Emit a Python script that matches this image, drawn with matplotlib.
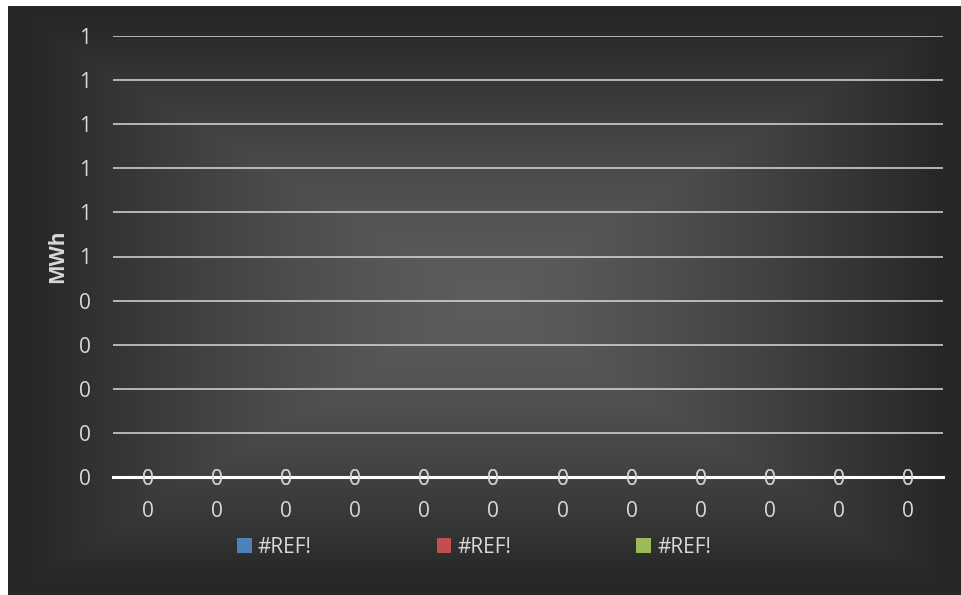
import numpy as np
import matplotlib
matplotlib.use("Agg")
import matplotlib.pyplot as plt

# chart data (all series evaluate to zero, names are broken refs)
categories = ["0"] * 12
series_names = ["#REF!", "#REF!", "#REF!"]
series_values = [[0] * 12, [0] * 12, [0] * 12]
series_colors = ["#4f81bd", "#c0504d", "#9bbb59"]
y_ticks = [0, 0.1, 0.2, 0.3, 0.4, 0.5, 0.6, 0.7, 0.8, 0.9, 1.0]
y_tick_labels = ["0", "0", "0", "0", "0", "1", "1", "1", "1", "1", "1"]
y_title = "MWh"

W, H = 962, 595
fig = plt.figure(figsize=(W / 100, H / 100), dpi=100)
fig.patch.set_facecolor("white")

# background panel with a rectangular path gradient
bg = fig.add_axes([8 / W, 0, 1 - 8 / W, 1 - 6 / H])
bw, bh = 477, 295
xx, yy = np.meshgrid(np.linspace(-1, 1, bw), np.linspace(-1, 1, bh))
d = np.maximum(np.abs(xx), np.abs(yy))
d = np.clip(d / 0.95, 0, 1)
c = 0.365 - (0.365 - 0.155) * d ** 1.4
img = np.dstack([c, c, c])
bg.imshow(img, aspect="auto", interpolation="bilinear", extent=[0, 1, 0, 1])
bg.set_axis_off()

ax = fig.add_axes([113 / W, 1 - 477 / H, (943 - 113) / W, (477 - 36) / H])
ax.set_facecolor("none")
txt = "#d9d9d9"
font = "Open Sans"
fs = 15

x = np.arange(len(categories))
bottom = np.zeros(len(categories))
for name, vals, col in zip(series_names, series_values, series_colors):
    ax.bar(x, vals, width=0.6, bottom=bottom, color=col, label=name)
    bottom = bottom + np.array(vals)
    # one data label per series, they sit on top of each other
    for xi, v, b in zip(x, vals, bottom):
        ax.text(xi, b, "%d" % v, ha="center", va="center_baseline",
                color=txt, fontsize=fs, family=font, zorder=5, alpha=0.6)

ax.set_xlim(-0.5, len(categories) - 0.5)
ax.set_ylim(0, 1)
ax.set_yticks(y_ticks)
ax.set_yticklabels(y_tick_labels)
ax.set_xticks(x)
ax.set_xticklabels(categories)
ax.yaxis.grid(True, color="#d9d9d9", linewidth=1.1)
ax.set_axisbelow(True)
for s in ["top", "right", "left"]:
    ax.spines[s].set_visible(False)
ax.spines["bottom"].set_color("white")
ax.spines["bottom"].set_linewidth(2.2)
ax.spines["bottom"].set_zorder(4)
ax.tick_params(axis="both", length=0, colors=txt, labelsize=fs)
ax.tick_params(axis="y", pad=16)
ax.tick_params(axis="x", pad=17)
for lab in ax.get_xticklabels() + ax.get_yticklabels():
    lab.set_family(font)

ax.set_ylabel(y_title, color=txt, fontsize=fs, fontweight="bold", family=font,
              labelpad=8)

leg = ax.legend(loc="center", bbox_to_anchor=(0.435, -0.159), ncol=3,
                frameon=False, handlelength=0.7, handleheight=0.7,
                handletextpad=0.3, columnspacing=6.0,
                prop={"family": font, "size": fs})
for t in leg.get_texts():
    t.set_color(txt)

fig.savefig("out.png", dpi=100, facecolor=fig.get_facecolor())
